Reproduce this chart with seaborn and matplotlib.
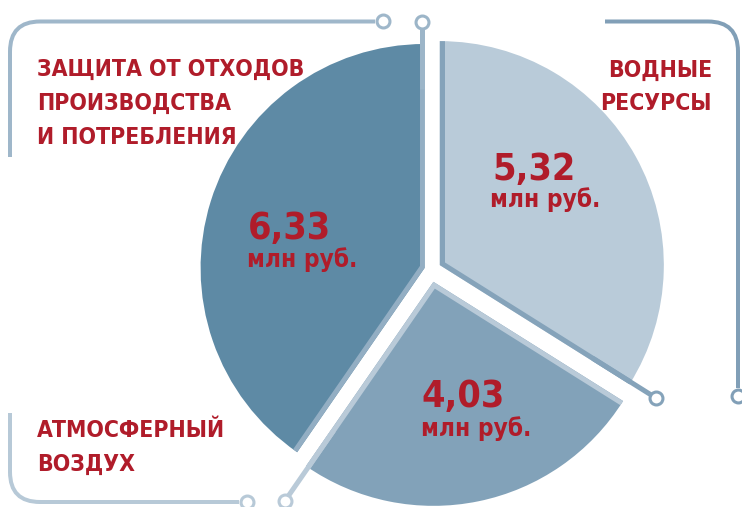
import numpy as np
import matplotlib
matplotlib.use('Agg')
import matplotlib.pyplot as plt
import seaborn as sns
from matplotlib import font_manager
from matplotlib.font_manager import FontProperties
from matplotlib.path import Path
from matplotlib.patches import PathPatch

# данные (млн руб.)
values = [5.32, 4.03, 6.33]
label_lines = [['ВОДНЫЕ', 'РЕСУРСЫ'],
               ['АТМОСФЕРНЫЙ', 'ВОЗДУХ'],
               ['ЗАЩИТА ОТ ОТХОДОВ', 'ПРОИЗВОДСТВА', 'И ПОТРЕБЛЕНИЯ']]
unit = 'млн руб.'

# стиль
slice_colors = ['#B9CBD9', '#82A2B9', '#5E8AA5']
stripe_colors = ['#85A3BA', '#B9CAD8', '#93AEC3']
explode = [0.045, 0.054, 0.03]
red = '#B01C2A'

sns.set_theme(style='white')
plt.rcParams['font.family'] = ['DejaVu Sans']

# ищем узкий жирный шрифт
narrow = None
for f in font_manager.fontManager.ttflist:
    w = f.weight if isinstance(f.weight, int) else (700 if 'bold' in str(f.weight) else 400)
    is_narrow = ('Narrow' in f.name or 'Condensed' in f.name or 'condensed' in str(f.stretch))
    if is_narrow and w >= 600 and 'Oblique' not in f.fname and 'Italic' not in f.fname:
        narrow = f.fname
        break
if narrow:
    fp = FontProperties(fname=narrow)
else:
    fp = FontProperties(family='DejaVu Sans', weight='bold', stretch='condensed')

W, H = 742, 507
CX, CY, R = 431, 270, 224


def px(x, y):
    # пиксели картинки -> координаты осей (радиус пирога = 1)
    return (x - CX) / R, (CY - y) / R


fig = plt.figure(figsize=(W / 100, H / 100), dpi=100)
ax = fig.add_axes([0, 0, 1, 1])
wedges, _ = ax.pie(values, colors=slice_colors, startangle=90, counterclock=False,
                   explode=explode, radius=1, wedgeprops=dict(linewidth=0))
ax.set_xlim(-CX / R, (W - CX) / R)
ax.set_ylim((CY - H) / R, CY / R)
ax.set_aspect('equal')
ax.axis('off')

# полосы вдоль прямых краёв секторов
stripe = 5 / R
for w, sc in zip(wedges, stripe_colors):
    cx, cy = w.center
    for t in (w.theta1, w.theta2):
        a = np.radians(t)
        ln, = ax.plot([cx, cx + 1.3 * np.cos(a)], [cy, cy + 1.3 * np.sin(a)],
                      color=sc, lw=2 * 5 * 0.72, solid_capstyle='butt', zorder=3)
        ln.set_clip_path(w)

# выноски с кружками
ext_len = [1.134, 1.18, 1.10]
ext_colors = ['#85A3BA', '#B9CAD8', '#9CB5C8']
for w, L, ec in zip(wedges, ext_len, ext_colors):
    cx, cy = w.center
    a = np.radians(w.theta1)
    ox, oy = -np.sin(a) * stripe / 2, np.cos(a) * stripe / 2
    x0, y0 = cx + 0.8 * np.cos(a) + ox, cy + 0.8 * np.sin(a) + oy
    x1, y1 = cx + L * np.cos(a) + ox, cy + L * np.sin(a) + oy
    ax.plot([x0, x1], [y0, y1], color=ec, lw=5 * 0.72, solid_capstyle='butt', zorder=4)
    ax.plot(x1, y1, 'o', ms=9.3, mfc='white', mec=ec, mew=2.2, zorder=5)


def bracket(p0, corner, p1, color, r=30):
    p0, c, p1 = np.array(px(*p0)), np.array(px(*corner)), np.array(px(*p1))
    rr = r / R
    b = c + (p0 - c) / np.linalg.norm(p0 - c) * rr
    e = c + (p1 - c) / np.linalg.norm(p1 - c) * rr
    path = Path([p0, b, c, e, p1],
                [Path.MOVETO, Path.LINETO, Path.CURVE3, Path.CURVE3, Path.LINETO])
    ax.add_patch(PathPatch(path, fill=False, ec=color, lw=4 * 0.72, zorder=4))
    end = p1 + (p1 - c) / np.linalg.norm(p1 - c) * (8 / R)
    ax.plot(end[0], end[1], 'o', ms=9.3, mfc='white', mec=color, mew=2.2, zorder=5)


bracket((10, 157), (10, 21.5), (375, 21.5), '#9FB7CA')
bracket((605, 21.5), (738, 21.5), (738, 388), '#819FB7')
bracket((10, 413), (10, 502), (239, 502), '#B7C9D7')

# подписи категорий
cat_pos = [(712, [77, 110], 'right'),
           (37, [437, 471], 'left'),
           (37, [76, 110, 144], 'left')]
for lines, (x, ys, ha) in zip(label_lines, cat_pos):
    for s, y in zip(lines, ys):
        ax.text(*px(x, y), s, color=red, fontproperties=fp, fontsize=16.5,
                ha=ha, va='baseline', zorder=6)

# значения
val_pos = [((492, 180), (490, 207)),
           ((421, 407), (421, 436)),
           ((248, 239), (247, 267))]
for v, (p_num, p_unit) in zip(values, val_pos):
    ax.text(*px(*p_num), f'{v:.2f}'.replace('.', ','), color=red, fontproperties=fp,
            fontsize=27, ha='left', va='baseline', zorder=6)
    ax.text(*px(*p_unit), unit, color=red, fontproperties=fp, fontsize=17.5,
            ha='left', va='baseline', zorder=6)

fig.savefig('out.png', dpi=100, facecolor='white')
